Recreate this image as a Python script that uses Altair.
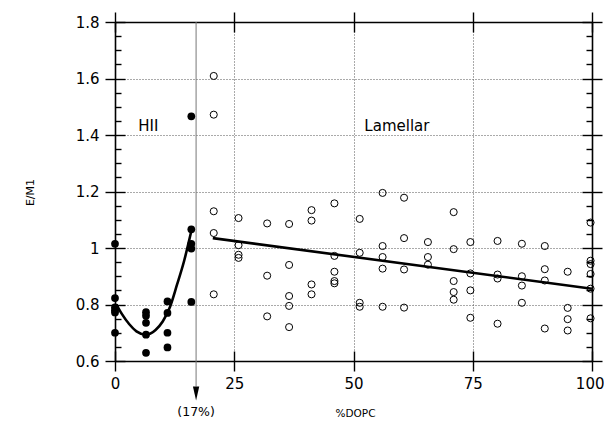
import altair as alt
import pandas as pd

# ---- data ----
# HII phase (filled dots)
hii_x = [0, 0, 0, 0, 0, 0,
         6.5, 6.5, 6.5, 6.5, 6.5,
         11, 11, 11, 11,
         16, 16, 16, 16, 16]
hii_y = [1.015, 0.823, 0.79, 0.78, 0.772, 0.70,
         0.773, 0.76, 0.735, 0.693, 0.629,
         0.811, 0.77, 0.70, 0.648,
         1.466, 1.066, 1.015, 0.998, 0.809]

# Lamellar phase (open circles)
lam_x = [20.7] * 5 + [25.9] * 4 + [31.9] * 3 + [36.5] * 5 + [41.2] * 4 + [46.0] * 5 + \
        [51.3] * 4 + [56.1] * 5 + [60.6] * 4 + [65.6] * 3 + [71.0] * 5 + [74.5] * 4 + \
        [80.2] * 4 + [85.3] * 4 + [90.1] * 4 + [94.9] * 4 + [99.7] * 6
lam_y = [1.609, 1.472, 1.13, 1.053, 0.836,
         1.106, 1.01, 0.976, 0.965,
         1.087, 0.902, 0.758,
         1.085, 0.94, 0.83, 0.795, 0.72,
         1.134, 1.097, 0.871, 0.836,
         1.158, 0.972, 0.916, 0.883, 0.875,
         1.103, 0.983, 0.806, 0.792,
         1.195, 1.007, 0.968, 0.927, 0.792,
         1.178, 1.035, 0.924, 0.789,
         1.021, 0.968, 0.941,
         1.127, 0.996, 0.883, 0.844, 0.817,
         1.021, 0.91, 0.85, 0.753,
         1.025, 0.906, 0.892, 0.732,
         1.015, 0.90, 0.867, 0.806,
         1.007, 0.925, 0.885, 0.715,
         0.916, 0.788, 0.748, 0.708,
         1.09, 0.955, 0.943, 0.908, 0.856, 0.751]

# fitted curve through HII data
curve_x = [0.3, 1.5, 3.0, 4.5, 6.5, 8.5, 10.0, 11.5, 13.0, 14.5, 16.0]
curve_y = [0.80, 0.765, 0.73, 0.705, 0.693, 0.71, 0.74, 0.79, 0.87, 0.955, 1.06]

# linear fit through lamellar data (endpoints)
fit_x = [20.5, 100.0]
fit_y = [1.035, 0.856]

# transition marker
arrow_x = [17]
arrow_top = [1.8]
arrow_bottom = [0.51]
arrow_head_y = [0.485]
arrow_label = ["(17%)"]
arrow_label_y = [0.42]

phase_labels = ["HII", "Lamellar"]
phase_x = [7.0, 59.1]
phase_y = [1.433, 1.433]

x_major = [0, 25, 50, 75, 100]
x_last = [100]
y_major = [0.6, 0.8, 1.0, 1.2, 1.4, 1.6, 1.8]
y_minor = [0.65, 0.7, 0.75, 0.85, 0.9, 0.95, 1.05, 1.1, 1.15, 1.25, 1.3, 1.35,
           1.45, 1.5, 1.55, 1.65, 1.7, 1.75]
x_grid = [25, 50, 75]
y_grid = [0.8, 1.0, 1.2, 1.4, 1.6]

FONT = "DejaVu Sans"

hii = pd.DataFrame({"x": hii_x, "y": hii_y})
lam = pd.DataFrame({"x": lam_x, "y": lam_y})
curve = pd.DataFrame({"x": curve_x, "y": curve_y})
fit = pd.DataFrame({"x": fit_x, "y": fit_y})
arrow = pd.DataFrame({"x": arrow_x, "y": arrow_top, "y2": arrow_bottom,
                      "yh": arrow_head_y, "label": arrow_label, "yl": arrow_label_y})
phases = pd.DataFrame({"label": phase_labels, "x": phase_x, "y": phase_y})
dummy = pd.DataFrame({"x": [0], "y": [0.6]})

xs = alt.Scale(domain=[0, 100], nice=False, zero=False)
ys = alt.Scale(domain=[0.6, 1.8], nice=False, zero=False)

TICK = 10


def ax(**kw):
    base = dict(domainColor="black", tickColor="black", domainWidth=1.6,
                tickWidth=1.4, grid=False, labels=False, title=None, domain=False,
                ticks=True)
    base.update(kw)
    return alt.Axis(**base)


def axis_layer(xaxis, yaxis):
    return alt.Chart(dummy).mark_point(opacity=0).encode(
        x=alt.X("x:Q", scale=xs, axis=xaxis),
        y=alt.Y("y:Q", scale=ys, axis=yaxis),
    )


grid_layer = axis_layer(
    ax(orient="bottom", values=x_grid, ticks=False, grid=True, gridDash=[1, 2],
       gridColor="#555555", gridWidth=1, gridOpacity=1),
    ax(orient="left", values=y_grid, ticks=False, grid=True, gridDash=[1, 2],
       gridColor="#555555", gridWidth=1, gridOpacity=1),
)

main_axes = axis_layer(
    ax(orient="bottom", values=x_major, tickSize=TICK, domain=True, labels=True,
       labelFont=FONT, labelFontSize=15, labelColor="black", labelPadding=5,
       labelExpr="datum.value == 100 ? '' : datum.label",
       title="%DOPC", titleFont=FONT, titleFontSize=10.5, titleFontWeight="normal",
       titleColor="black", titleX=240, titleY=52, titleAlign="center",
       titleBaseline="middle", labelFlush=False),
    ax(orient="left", values=y_major, tickSize=TICK, domain=True, labels=True,
       labelFont=FONT, labelFontSize=15, labelColor="black", labelPadding=6,
       format=".1~f", labelFlush=False,
       title="E/M1", titleFont=FONT, titleFontSize=11, titleFontWeight="normal",
       titleColor="black", titleX=-85, titleY=170, titleAngle=-90,
       titleAlign="center", titleBaseline="middle"),
)

inner_axes = axis_layer(
    ax(orient="bottom", values=x_major, tickSize=TICK, offset=-TICK),
    ax(orient="left", values=y_major, tickSize=TICK, offset=-TICK),
)

far_axes = axis_layer(
    ax(orient="top", values=x_major, tickSize=TICK, domain=True),
    ax(orient="right", values=y_major, tickSize=TICK, domain=True),
)

far_inner_axes = axis_layer(
    ax(orient="top", values=x_major, tickSize=TICK, offset=-TICK),
    ax(orient="right", values=y_major, tickSize=TICK, offset=-TICK),
)

minor_left = axis_layer(
    ax(orient="bottom", values=x_last, ticks=False, labels=True, labelFont=FONT,
       labelFontSize=15, labelColor="black", labelPadding=15, labelAlign="right",
       labelOffset=12, labelFlush=False),
    ax(orient="left", values=y_minor, tickSize=6, offset=-6),
)
minor_right = alt.Chart(dummy).mark_point(opacity=0).encode(
    x=alt.X("x:Q", scale=xs, axis=None),
    y=alt.Y("y:Q", scale=ys, axis=ax(orient="right", values=y_minor, tickSize=6, offset=-6)),
)

X = lambda f="x": alt.X(f"{f}:Q", scale=xs, axis=None)
Y = lambda f="y": alt.Y(f"{f}:Q", scale=ys, axis=None)

arrow_line = alt.Chart(arrow).mark_rule(color="#777777", strokeWidth=1).encode(
    x=X(), y=Y(), y2="y2:Q")
arrow_head = alt.Chart(arrow).mark_point(
    shape="M-0.45,-1L0.45,-1L0,1Z", size=196, filled=True, color="black", opacity=1
).encode(x=X(), y=Y("yh"))
arrow_text = alt.Chart(arrow).mark_text(
    font=FONT, fontSize=12.5, color="black", align="center", baseline="middle"
).encode(x=X(), y=Y("yl"), text="label:N")

lam_pts = alt.Chart(lam).mark_point(
    shape="circle", filled=False, size=50, color="black", strokeWidth=1, opacity=1
).encode(x=X(), y=Y())
hii_pts = alt.Chart(hii).mark_circle(size=60, color="black", opacity=1).encode(x=X(), y=Y())

curve_line = alt.Chart(curve).mark_line(
    color="black", strokeWidth=2.6, interpolate="monotone").encode(x=X(), y=Y())
fit_line = alt.Chart(fit).mark_line(color="black", strokeWidth=2.6).encode(x=X(), y=Y())

phase_text = alt.Chart(phases).mark_text(
    font=FONT, fontSize=15, color="black", align="center", baseline="middle"
).encode(x=X(), y=Y(), text="label:N")

chart = alt.layer(
    grid_layer, main_axes, inner_axes, far_axes, far_inner_axes, minor_left, minor_right,
    arrow_line, arrow_head, arrow_text,
    fit_line, curve_line, lam_pts, hii_pts, phase_text,
).resolve_axis(x="independent", y="independent").properties(
    width=477, height=339,
    autosize=alt.AutoSizeParams(type="none"),
    padding={"left": 107, "top": 14, "right": 12, "bottom": 57},
    background="white",
).configure_view(stroke=None)

chart.save("out.html", embed_options={"renderer": "svg", "actions": False})
